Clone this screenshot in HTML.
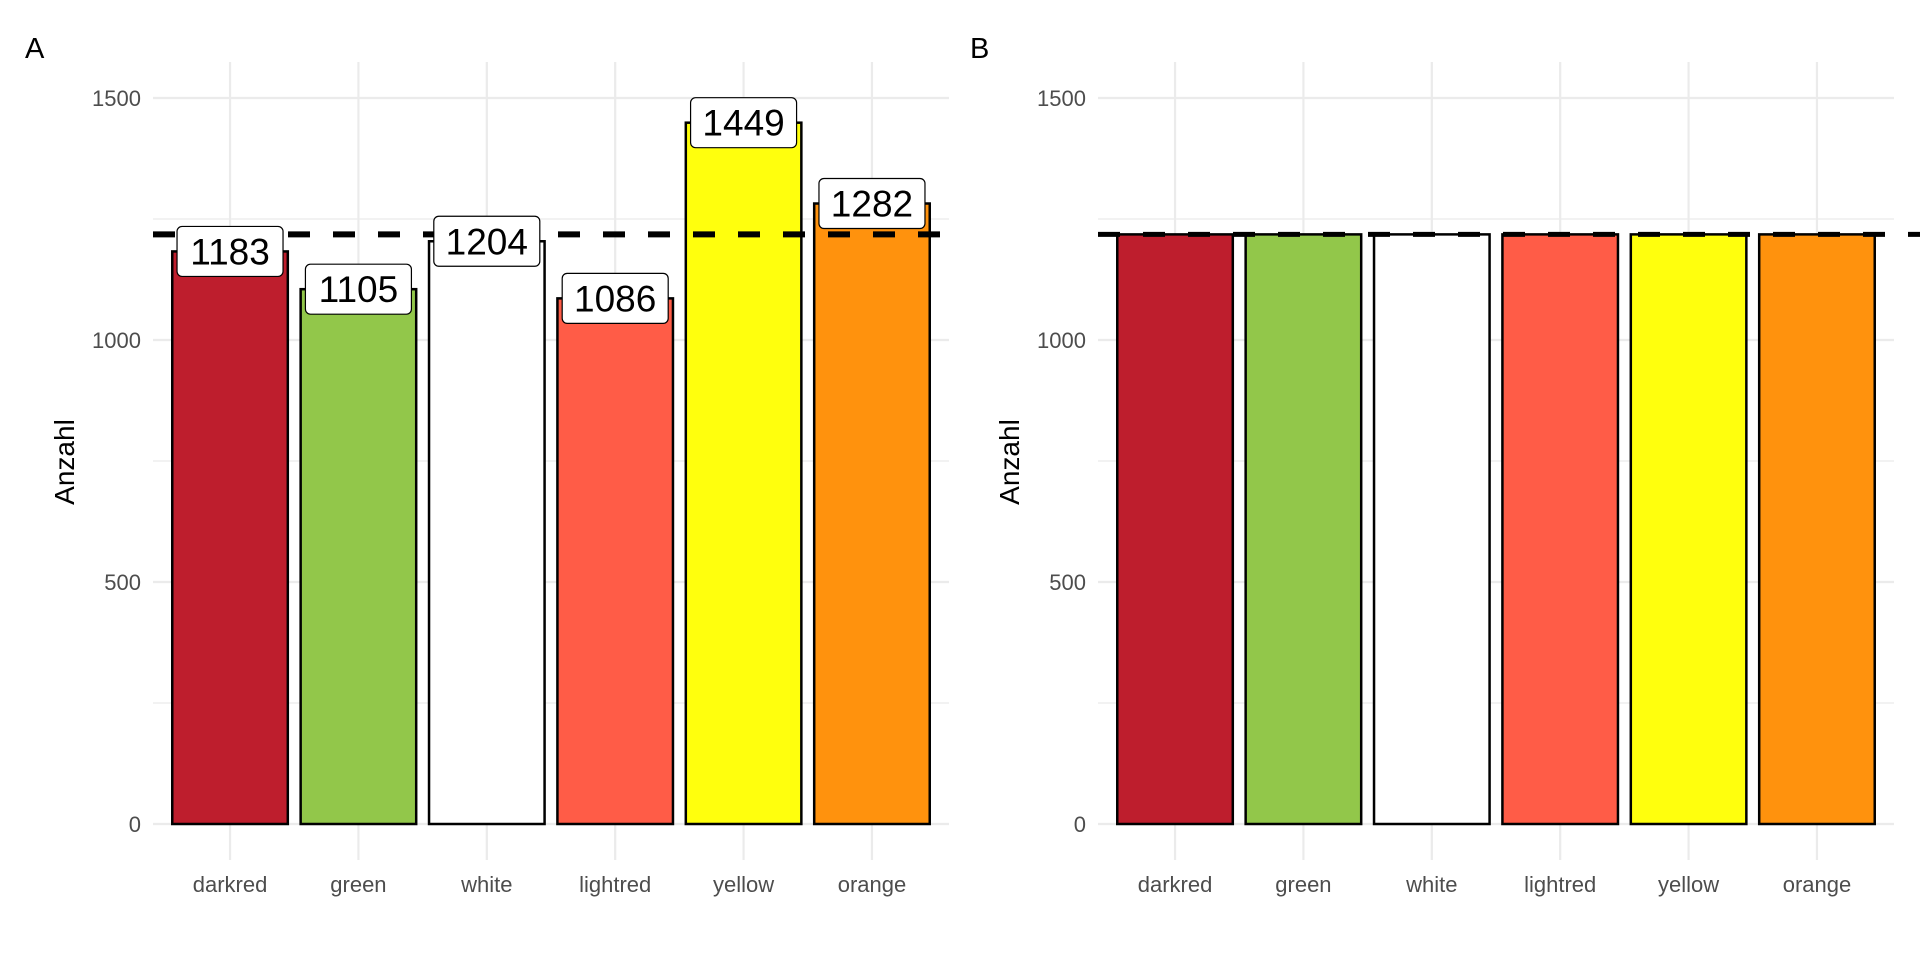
<!DOCTYPE html>
<html><head><meta charset="utf-8"><style>
body{margin:0;background:#fff;}
svg{display:block;font-family:"Liberation Sans",Arial,sans-serif;}
</style></head><body>
<svg id="chart" width="1920" height="960" viewBox="0 0 1920 960"></svg>
<script>
const categories = ["darkred","green","white","lightred","yellow","orange"];
const colors = ["#BE1E2D","#92C74A","#FFFFFF","#FF5C47","#FFFF0D","#FF920D"];
const valuesA = [1183,1105,1204,1086,1449,1282];
const meanValue = 1218.2;
const valuesB = [1218.2,1218.2,1218.2,1218.2,1218.2,1218.2];
const yTicks = [0,500,1000,1500];
const yMinor = [250,750,1250];

const NS="http://www.w3.org/2000/svg";
const svg=document.getElementById('chart');
function mk(tag,attrs,parent){const e=document.createElementNS(NS,tag);for(const k in attrs)e.setAttribute(k,attrs[k]);(parent||svg).appendChild(e);return e;}
const y=v=>824-v*0.484;

function panel(x0,label,values,showLabels){
  const g=mk('g',{});
  
  
  const W=796, step=W/6.2;
  const x=i=>x0+step*(0.6+i);
  const top=62,bot=860;
  yMinor.forEach(v=>{const l=mk('line',{x1:x0,x2:x0+W,y1:y(v),y2:y(v),stroke:'#ebebeb','stroke-width':1.2},g);
    });
  yTicks.forEach(v=>{const l=mk('line',{x1:x0,x2:x0+W,y1:y(v),y2:y(v),stroke:'#ebebeb','stroke-width':2.2},g);
    
    const t=mk('text',{x:x0-12,y:y(v)+8,'text-anchor':'end','font-size':22,fill:'#4d4d4d'},g);t.textContent=v;
    });
  categories.forEach((c,i)=>{const l=mk('line',{x1:x(i),x2:x(i),y1:top,y2:bot,stroke:'#ebebeb','stroke-width':2.2},g);
    
    const t=mk('text',{x:x(i),y:892,'text-anchor':'middle','font-size':22,fill:'#4d4d4d'},g);t.textContent=c;
    });
  const bw=step*0.9;
  categories.forEach((c,i)=>{const r=mk('rect',{x:x(i)-bw/2,y:y(values[i]),width:bw,height:y(0)-y(values[i]),fill:colors[i],stroke:'#000','stroke-width':2.5},g);
    });
  const d=mk('line',{x1:x0,x2:showLabels?x0+W:1920,y1:y(meanValue),y2:y(meanValue),stroke:'#000','stroke-width':showLabels?6:5,'stroke-dasharray':'22 23'},g);
  
  if(showLabels){
    categories.forEach((c,i)=>{const cy=y(values[i]);
      const b=mk('rect',{x:x(i)-53,y:cy-25,width:106,height:50,rx:5,fill:'#fff',stroke:'#000','stroke-width':1.2},g);
      
      const t=mk('text',{x:x(i),y:cy+13,'text-anchor':'middle','font-size':37,fill:'#000'},g);t.textContent=values[i];
      });
  }
  const at=mk('text',{transform:`translate(${x0-79},462) rotate(-90)`,'text-anchor':'middle','font-size':28,fill:'#000'},g);at.textContent='Anzahl';
  
  const pt=mk('text',{x:x0-128,y:58,'font-size':29,fill:'#000'},g);pt.textContent=label;
  
}
panel(153,'A',valuesA,true);
panel(1098,'B',valuesB,false);
</script>
</body></html>
